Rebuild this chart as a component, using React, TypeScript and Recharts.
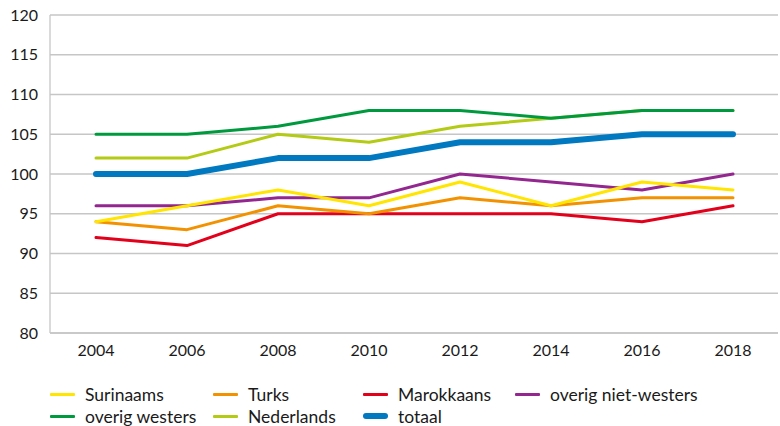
import { LineChart, Line, XAxis, YAxis, CartesianGrid, Legend } from "recharts";

const years = ["2004", "2006", "2008", "2010", "2012", "2014", "2016", "2018"];
const surinaams = [94, 96, 98, 96, 99, 96, 99, 98];
const turks = [94, 93, 96, 95, 97, 96, 97, 97];
const marokkaans = [92, 91, 95, 95, 95, 95, 94, 96];
const overigNietWesters = [96, 96, 97, 97, 100, 99, 98, 100];
const overigWesters = [105, 105, 106, 108, 108, 107, 108, 108];
const nederlands = [102, 102, 105, 104, 106, 107, 108, 108];
const totaal = [100, 100, 102, 102, 104, 104, 105, 105];
const yTicks = [80, 85, 90, 95, 100, 105, 110, 115, 120];

const series = [
  { key: "surinaams", name: "Surinaams", color: "#FFE500", values: surinaams },
  { key: "turks", name: "Turks", color: "#F39200", values: turks },
  { key: "marokkaans", name: "Marokkaans", color: "#E3001B", values: marokkaans },
  { key: "overigNietWesters", name: "overig niet-westers", color: "#93278F", values: overigNietWesters },
  { key: "overigWesters", name: "overig westers", color: "#009A3E", values: overigWesters },
  { key: "nederlands", name: "Nederlands", color: "#B3CB14", values: nederlands },
  { key: "totaal", name: "totaal", color: "#0079C1", values: totaal },
];

// drawing order, bottom to top
const drawOrder = ["marokkaans", "turks", "overigNietWesters", "surinaams", "nederlands", "overigWesters", "totaal"];

const data = years.map((year, i) => {
  const row: Record<string, string | number> = { year };
  for (const s of series) row[s.key] = s.values[i];
  return row;
});

const FONT = "Lato, 'Noto Sans', sans-serif";
const GRID = "#C6C6C6";

function LegendBox() {
  return (
    <div
      style={{
        display: "grid",
        gridTemplateColumns: "163px 150px 152px auto",
        paddingLeft: 50,
        paddingTop: 23,
        fontFamily: FONT,
        fontSize: 17.5,
        color: "#1a1a1a",
        textAlign: "left",
      }}
    >
      {series.map((s) => (
        <div key={s.key} style={{ display: "flex", alignItems: "center", height: 22 }}>
          <span
            style={{
              display: "inline-block",
              flexShrink: 0,
              width: 25,
              height: s.key === "totaal" ? 6 : 3,
              borderRadius: s.key === "totaal" ? 3 : 1,
              background: s.color,
              marginRight: 10,
            }}
          />
          <span style={{ whiteSpace: "nowrap" }}>{s.name}</span>
        </div>
      ))}
    </div>
  );
}

export default function App() {
  const byKey = Object.fromEntries(series.map((s) => [s.key, s]));
  return (
    <div style={{ position: "absolute", left: 0, top: 0, background: "#fff" }}>
      <LineChart width={780} height={426} data={data} margin={{ top: 15, right: 2, left: 0, bottom: 0 }}>
        <CartesianGrid vertical={false} stroke={GRID} strokeWidth={1.3} />
        <XAxis
          dataKey="year"
          padding={{ left: 46, right: 45 }}
          height={27}
          tickLine={false}
          tickSize={0}
          tickMargin={12}
          axisLine={{ stroke: GRID, strokeWidth: 1.3 }}
          tick={{ fontFamily: FONT, fontSize: 16, fill: "#1a1a1a" }}
        />
        <YAxis
          domain={[80, 120]}
          ticks={yTicks}
          width={50}
          tickLine={false}
          tickSize={0}
          tickMargin={12}
          axisLine={{ stroke: GRID, strokeWidth: 1.3 }}
          tick={{ fontFamily: FONT, fontSize: 16, fill: "#1a1a1a" }}
        />
        <YAxis
          yAxisId="right"
          orientation="right"
          domain={[80, 120]}
          width={0}
          tick={false}
          tickLine={false}
          axisLine={{ stroke: GRID, strokeWidth: 1.3 }}
        />
        <Legend verticalAlign="bottom" height={66} content={() => <LegendBox />} />
        {drawOrder.map((k) => {
          const s = byKey[k];
          return (
            <Line
              key={k}
              type="linear"
              dataKey={k}
              name={s.name}
              stroke={s.color}
              strokeWidth={k === "totaal" ? 6 : 3}
              strokeLinecap="round"
              strokeLinejoin="round"
              dot={false}
              activeDot={false}
              isAnimationActive={false}
            />
          );
        })}
      </LineChart>
    </div>
  );
}
